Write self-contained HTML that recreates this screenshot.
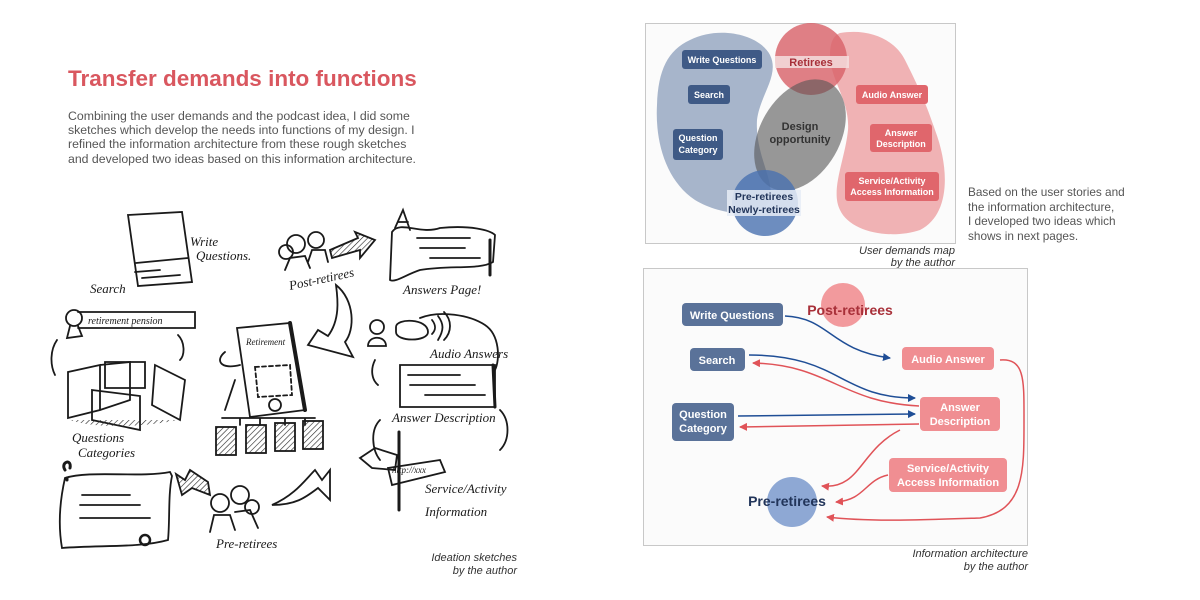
<!DOCTYPE html>
<html><head><meta charset="utf-8"><style>
html,body{margin:0;padding:0;background:#fff;}
body{width:1200px;height:600px;overflow:hidden;position:relative;font-family:"Liberation Sans",sans-serif;}
.t{position:absolute;}
</style></head><body>
<div class="t" style="left:68px;top:66px;font-size:22.5px;font-weight:bold;color:#d9575f;white-space:nowrap;">Transfer demands into functions</div>
<div class="t" style="left:68px;top:109px;font-size:12.3px;line-height:14.2px;color:#555;width:380px;white-space:nowrap;">Combining the user demands and the podcast idea, I did some<br>sketches which develop the needs into functions of my design. I<br>refined the information architecture from these rough sketches<br>and developed two ideas based on this information architecture.</div>
<div class="t" style="left:968px;top:185px;font-size:11.8px;line-height:14.5px;color:#555;white-space:nowrap;">Based on the user stories and<br>the information architecture,<br>I developed two ideas which<br>shows in next pages.</div>

<svg width="1200" height="600" style="position:absolute;left:0;top:0" xmlns="http://www.w3.org/2000/svg" font-family="Liberation Sans, sans-serif">
<defs>
<marker id="ab" markerWidth="8" markerHeight="8" refX="7" refY="4" orient="auto" markerUnits="userSpaceOnUse"><path d="M0,0 L8,4 L0,8 z" fill="#1f4e96"/></marker>
<marker id="ar" markerWidth="8" markerHeight="8" refX="7" refY="4" orient="auto" markerUnits="userSpaceOnUse"><path d="M0,0 L8,4 L0,8 z" fill="#e05358"/></marker>
<pattern id="h" width="4" height="4" patternUnits="userSpaceOnUse" patternTransform="rotate(45)"><line x1="0" y1="0" x2="0" y2="4" stroke="#222" stroke-width="1.2"/></pattern>
</defs>

<g fill="none" stroke="#1a1a1a" stroke-width="1.8" stroke-linecap="round">
<path d="M128,215 L182,212 L192,282 L138,286 Z"/><path d="M136,263 L188,258"/>
<path d="M135,272 L160,270 M142,278 L180,275"/>
<circle cx="74" cy="318" r="8"/><path d="M70,326 L67,338 L82,336 L78,326"/>
<path d="M78,312 L195,312 L195,328 L78,328"/>
<path d="M57,340 C50,350 50,365 55,375 M178,335 C185,342 185,355 180,360"/>
<path d="M68,372 L100,365 L100,410 L68,418 Z M100,365 L130,362 L130,400 L100,410"/>
<path d="M105,362 L145,362 L145,388 L105,388 Z"/>
<path d="M155,365 L185,380 L180,420 L152,405 Z"/>
<path d="M92,390 L140,396 L140,430 L92,420 Z"/>
<path d="M70,420 C90,428 140,428 178,420" fill="url(#h)" stroke="none"/>
<path d="M237,328 L290,323 L305,410 L250,417 Z"/><path d="M290,323 L305,410" stroke-width="4"/>
<circle cx="275" cy="405" r="6"/>
<path d="M225,352 C215,360 220,370 240,365 M235,380 L225,410"/>
<path d="M255,367 L290,365 L292,395 L258,397 Z" stroke-dasharray="4,3"/>
<path d="M222,418 L315,418 M240,418 L240,425 M260,418 L260,425 M285,418 L285,425 M305,418 L305,425"/>
<rect x="216" y="427" width="20" height="28" fill="url(#h)"/>
<rect x="246" y="425" width="20" height="28" fill="url(#h)"/>
<rect x="275" y="423" width="20" height="28" fill="url(#h)"/>
<rect x="303" y="421" width="20" height="28" fill="url(#h)"/>
<circle cx="296" cy="244" r="9"/><circle cx="316" cy="240" r="8"/><circle cx="286" cy="252" r="7"/>
<path d="M285,270 L290,258 L305,256 L310,268 M308,262 L312,250 L325,250 L328,262"/>
<path d="M330,250 L358,238 L355,232 L375,240 L360,258 L360,250 L332,258 Z" fill="url(#h)"/>
<path d="M392,232 C400,220 420,235 440,228 C470,225 490,230 495,235 L493,262 C480,270 450,265 420,270 C405,275 395,283 390,280 Z"/>
<path d="M395,228 L403,210 L410,230 M398,222 L408,222"/><path d="M490,240 L490,275" stroke-width="3"/>
<path d="M417,238 L470,238 M420,248 L465,248 M430,258 L480,258"/>
<path d="M336,285 C355,300 355,330 345,342 L353,357 L308,345 L318,330 L328,336 C340,320 338,300 336,285 Z"/>
<circle cx="377" cy="327" r="7"/><path d="M368,346 C368,335 386,335 386,346 Z"/>
<path d="M396,327 C396,318 428,318 428,332 C428,342 396,342 396,332 Z"/>
<path d="M432,320 C436,325 436,330 432,334 M438,316 C444,324 444,330 438,340 M444,312 C452,320 452,332 444,340"/>
<path d="M420,318 C440,310 470,315 485,325 C500,335 500,360 495,370 M375,360 C370,370 372,380 378,385"/>
<path d="M400,365 L495,365 L495,407 L400,407 Z"/><path d="M493,365 L495,407" stroke-width="3"/>
<path d="M408,375 L460,375 M410,385 L475,385 M425,395 L485,395"/>
<path d="M380,420 C370,430 372,450 380,460 M500,410 C510,420 510,440 500,450"/>
<path d="M399,432 L399,510" stroke-width="3"/>
<path d="M360,458 L375,448 L397,455 L395,470 L372,468 Z"/>
<path d="M388,468 L440,460 L445,472 L392,485 Z"/>
<path d="M65,478 C90,470 140,478 170,472 L172,476 C168,495 170,520 168,540 C140,548 100,545 62,548 C58,525 60,500 65,478 Z"/>
<path d="M65,470 C60,462 72,458 70,468 M67,480 L67,478" stroke-width="3"/>
<path d="M82,495 L130,495 M80,505 L140,505 M80,518 L150,518"/><circle cx="145" cy="540" r="5" stroke-width="2.5"/>
<circle cx="220" cy="503" r="9"/><circle cx="240" cy="495" r="9"/><circle cx="252" cy="507" r="7"/>
<path d="M210,532 L214,515 L230,515 L235,530 M235,512 L250,510 L258,528"/>
<path d="M208,482 L190,470 L185,480 L176,474 L182,495 L192,488 L210,495 Z" fill="url(#h)"/>
<path d="M272,505 C295,495 305,480 315,470 L322,480 L330,470 L330,500 L318,488 C305,498 295,505 272,505 Z"/>
</g>
<g font-family="Liberation Serif, serif" font-style="italic" font-size="13" fill="#1a1a1a">
<text x="190" y="246">Write</text><text x="196" y="260">Questions.</text>
<text x="90" y="293">Search</text>
<text x="88" y="324" font-size="10">retirement  pension</text>
<text x="72" y="442">Questions</text><text x="78" y="457">Categories</text>
<text x="246" y="345" font-size="9">Retirement</text>
<text x="290" y="290" transform="rotate(-12 290 290)">Post-retirees</text>
<text x="403" y="294">Answers Page!</text>
<text x="430" y="358">Audio Answers</text>
<text x="392" y="422">Answer Description</text>
<text x="392" y="473" font-size="9">http://xxx</text>
<text x="425" y="493">Service/Activity</text>
<text x="425" y="516">Information</text>
<text x="216" y="548">Pre-retirees</text>
</g>
<g font-size="11" font-style="italic" fill="#333" text-anchor="end">
<text x="517" y="561">Ideation sketches</text><text x="517" y="574">by the author</text>
<text x="955" y="254">User demands map</text><text x="955" y="266">by the author</text>
<text x="1028" y="557">Information architecture</text><text x="1028" y="570">by the author</text>
</g>

<rect x="645.5" y="23.5" width="310" height="220" fill="#fbfbfb" stroke="#c8c8c8"/>
<path d="M690,40 C720,25 760,35 770,55 C780,75 760,95 757,120 C755,155 775,180 770,200 C760,220 720,215 695,200 C665,180 655,140 657,105 C658,70 668,50 690,40 Z" fill="#8b9ebb" fill-opacity="0.75"/>
<path d="M840,33 C870,28 895,40 905,60 C915,80 925,100 935,130 C950,170 950,215 920,230 C890,240 850,232 840,210 C830,190 845,160 848,130 C850,100 830,80 830,55 C830,40 835,35 840,33 Z" fill="#eea0a3" fill-opacity="0.8"/>
<circle cx="811" cy="59" r="36" fill="#d86068" fill-opacity="0.8"/>
<ellipse cx="800" cy="135" rx="40" ry="60" transform="rotate(30 800 135)" fill="#555" fill-opacity="0.6"/>
<circle cx="765" cy="203" r="33" fill="#4a72b0" fill-opacity="0.8"/>
<rect x="775" y="56" width="74" height="12" fill="#f5dede" fill-opacity="0.85"/>
<text x="811" y="66" text-anchor="middle" font-size="11" font-weight="bold" fill="#a83039">Retirees</text>
<rect x="727" y="190" width="74" height="26" fill="#e6ecf6" fill-opacity="0.85"/>
<text x="764" y="200" text-anchor="middle" font-size="10.5" font-weight="bold" fill="#22355a">Pre-retirees</text>
<text x="764" y="213" text-anchor="middle" font-size="10.5" font-weight="bold" fill="#22355a">Newly-retirees</text>
<text x="800" y="130" text-anchor="middle" font-size="11" font-weight="bold" fill="#333">Design</text>
<text x="800" y="143" text-anchor="middle" font-size="11" font-weight="bold" fill="#333">opportunity</text>
<g font-size="9" font-weight="bold" fill="#fff" text-anchor="middle">
<rect x="682" y="50" width="80" height="19" rx="3" fill="#3f5a86"/><text x="722" y="63">Write Questions</text>
<rect x="688" y="85" width="42" height="19" rx="3" fill="#3f5a86"/><text x="709" y="98">Search</text>
<rect x="673" y="129" width="50" height="31" rx="3" fill="#3f5a86"/><text x="698" y="141">Question</text><text x="698" y="153">Category</text>
<rect x="856" y="85" width="72" height="19" rx="3" fill="#e0666c"/><text x="892" y="98">Audio Answer</text>
<rect x="870" y="124" width="62" height="28" rx="3" fill="#e0666c"/><text x="901" y="136">Answer</text><text x="901" y="147">Description</text>
<rect x="845" y="172" width="94" height="29" rx="3" fill="#e0666c"/><text x="892" y="184">Service/Activity</text><text x="892" y="195">Access Information</text>
</g>

<rect x="643.5" y="268.5" width="384" height="277" fill="#fbfbfb" stroke="#c8c8c8"/>
<circle cx="843" cy="305" r="22" fill="#f29a9d"/>
<circle cx="792" cy="502" r="25" fill="#8ea8d4"/>
<g fill="none" stroke-width="1.5">
<path d="M785,316 C830,318 830,350 890,358" stroke="#1f4e96" marker-end="url(#ab)"/>
<path d="M749,355 C840,355 840,398 915,398" stroke="#1f4e96" marker-end="url(#ab)"/>
<path d="M919,406 C840,402 830,365 753,363" stroke="#e05358" marker-end="url(#ar)"/>
<path d="M738,416 L915,414" stroke="#1f4e96" marker-end="url(#ab)"/>
<path d="M919,424 L740,427" stroke="#e05358" marker-end="url(#ar)"/>
<path d="M900,430 C860,450 860,490 822,486" stroke="#e05358" marker-end="url(#ar)"/>
<path d="M888,475 C865,480 865,500 836,502" stroke="#e05358" marker-end="url(#ar)"/>
<path d="M1000,360 C1025,358 1024,380 1024,420 C1024,470 1025,510 980,518 C920,520 870,522 827,517" stroke="#e05358" marker-end="url(#ar)"/>
</g>
<text x="850" y="315" text-anchor="middle" font-size="14" font-weight="bold" fill="#a83039">Post-retirees</text>
<text x="787" y="506" text-anchor="middle" font-size="14" font-weight="bold" fill="#22355a">Pre-retirees</text>
<g font-size="11" font-weight="bold" fill="#fff" text-anchor="middle">
<rect x="682" y="303" width="101" height="23" rx="4" fill="#5a7299"/><text x="732" y="319">Write Questions</text>
<rect x="690" y="348" width="55" height="23" rx="4" fill="#5a7299"/><text x="717" y="364">Search</text>
<rect x="672" y="403" width="62" height="38" rx="4" fill="#5a7299"/><text x="703" y="418">Question</text><text x="703" y="432">Category</text>
<rect x="902" y="347" width="92" height="23" rx="4" fill="#f08e92"/><text x="948" y="363">Audio Answer</text>
<rect x="920" y="397" width="80" height="34" rx="4" fill="#f08e92"/><text x="960" y="411">Answer</text><text x="960" y="425">Description</text>
<rect x="889" y="458" width="118" height="34" rx="4" fill="#f08e92"/><text x="948" y="472">Service/Activity</text><text x="948" y="486">Access Information</text>
</g>
</svg>
</body></html>
